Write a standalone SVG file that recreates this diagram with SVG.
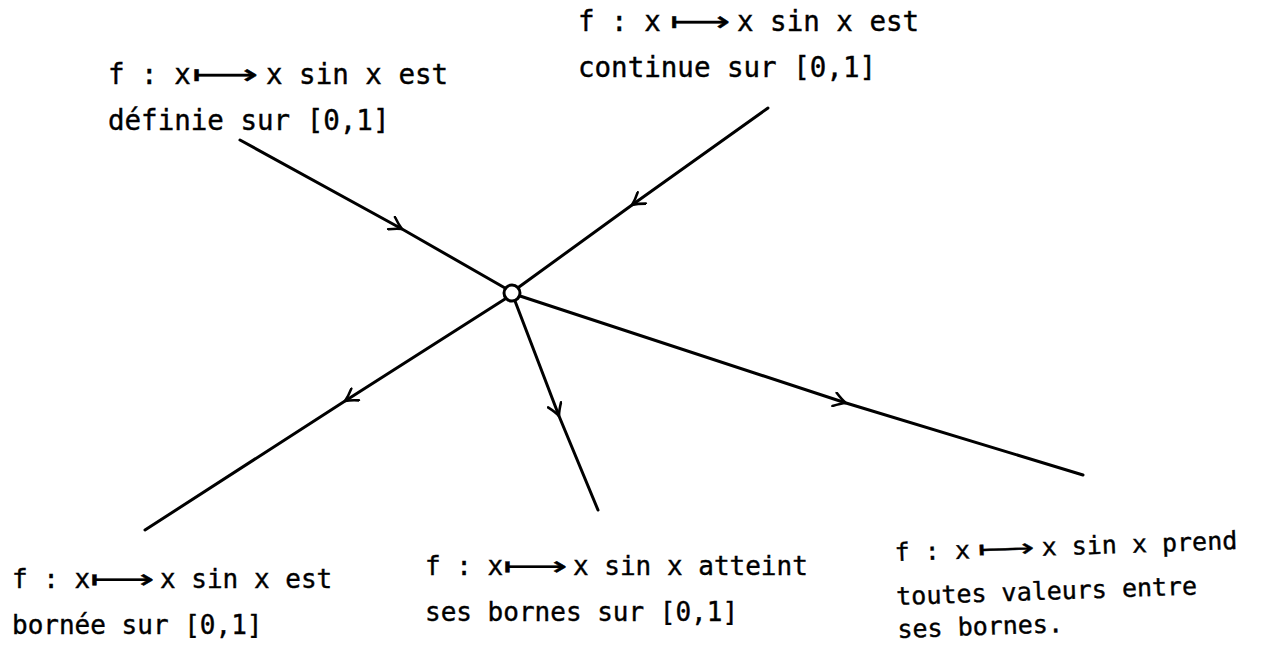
<svg xmlns="http://www.w3.org/2000/svg" width="1267" height="645" viewBox="0 0 1267 645">
<defs>
<style>
.t{font-family:"DejaVu Sans Mono","Liberation Mono",monospace;font-size:26px;fill:#000;stroke:#000;stroke-width:0.4}
.l{font-size:27.5px}
.s{font-size:25px}
.e{fill:none;stroke:#000;stroke-width:3;stroke-linecap:round}
</style>
<marker id="ah" viewBox="-14 -8 16 16" markerWidth="16" markerHeight="16" refX="0" refY="0" orient="auto" markerUnits="userSpaceOnUse">
<path d="M-12,-7 Q-5,-2 0,0 Q-5,2 -12,7" fill="none" stroke="#000" stroke-width="2.6" stroke-linecap="round" stroke-linejoin="round"/>
</marker>
</defs>
<rect width="1267" height="645" fill="#fff"/>
<g id="connectors">
<polyline class="e" points="240,140 402,229 505,288" marker-mid="url(#ah)"/>
<polyline class="e" points="768,108 632,205 519,287" marker-mid="url(#ah)"/>
<polyline class="e" points="505,299 345,401 145,530" marker-mid="url(#ah)"/>
<polyline class="e" points="515,301 559,416 598,510" marker-mid="url(#ah)"/>
<polyline class="e" points="520,296 846,403 1083,475" marker-mid="url(#ah)"/>
</g>
<g id="center"><circle cx="512" cy="293" r="8" fill="#fff" stroke="#000" stroke-width="3"/></g>
<g id="n-definie">
<text class="t l" x="108" y="84">f : x</text>
<text class="t l" x="192" y="84" textLength="66" lengthAdjust="spacingAndGlyphs">⟼</text>
<text class="t l" x="266" y="84">x sin x est</text>
<text class="t l" x="108" y="130">définie sur [0,1]</text>
</g>
<g id="n-continue">
<text class="t l" x="578" y="31">f : x</text>
<text class="t l" x="670" y="31" textLength="60" lengthAdjust="spacingAndGlyphs">⟼</text>
<text class="t l" x="737" y="31">x sin x est</text>
<text class="t l" x="578" y="77">continue sur [0,1]</text>
</g>
<g id="n-bornee">
<text class="t" x="12" y="588">f : x</text>
<text class="t" x="90" y="588" textLength="64" lengthAdjust="spacingAndGlyphs">⟼</text>
<text class="t" x="160" y="588">x sin x est</text>
<text class="t" x="12" y="634">bornée sur [0,1]</text>
</g>
<g id="n-atteint">
<text class="t" x="425" y="575">f : x</text>
<text class="t" x="503" y="575" textLength="64" lengthAdjust="spacingAndGlyphs">⟼</text>
<text class="t" x="573" y="575">x sin x atteint</text>
<text class="t" x="425" y="621">ses bornes sur [0,1]</text>
</g>
<g id="n-prend" transform="rotate(-2 895 560)">
<text class="t s" x="895" y="561">f : x</text>
<text class="t s" x="978" y="561" textLength="57" lengthAdjust="spacingAndGlyphs">⟼</text>
<text class="t s" x="1042" y="561">x sin x prend</text>
<text class="t s" x="895" y="605">toutes valeurs entre</text>
<text class="t s" x="895" y="638">ses bornes.</text>
</g>
</svg>
